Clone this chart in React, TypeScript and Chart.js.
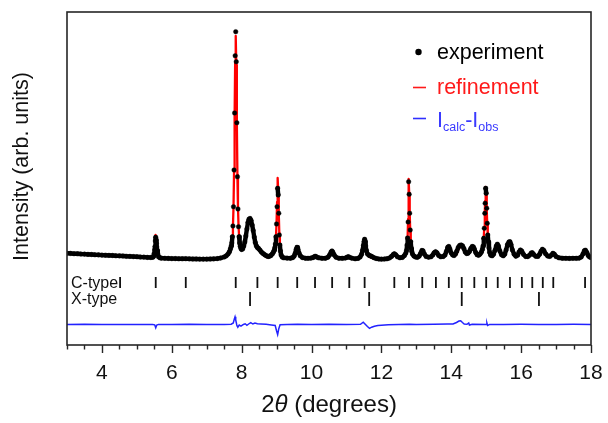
import React, { useEffect, useRef } from 'react';
import { Chart, registerables } from 'chart.js';

Chart.register(...registerables);

const FONT = '"Liberation Sans", Arial, Helvetica, sans-serif';

// 2θ positions of the measured / refined pattern (degrees)
const twoTheta = [
  3.0, 3.1, 3.2, 3.3, 3.4, 3.5, 3.6, 3.7, 3.8, 3.9, 4.0, 4.1, 4.2, 4.3, 4.4, 4.5, 4.6, 4.7, 4.8, 4.9, 5.0, 5.1, 5.2, 5.3, 5.4,
  5.46, 5.48, 5.495, 5.51, 5.52, 5.53, 5.54, 5.55, 5.56, 5.57, 5.585, 5.6, 5.62, 5.66,
  5.7, 5.8, 5.9, 6.0, 6.1, 6.2, 6.3, 6.4, 6.5, 6.6, 6.7, 6.8, 6.9, 7.0, 7.1, 7.2, 7.3, 7.4, 7.5, 7.56, 7.61, 7.65, 7.68, 7.7,
  7.718, 7.734, 7.75, 7.766, 7.782, 7.798, 7.814, 7.83, 7.846, 7.862, 7.878, 7.894, 7.91, 7.926, 7.942,
  7.96, 7.98, 8.0, 8.03, 8.06, 8.09, 8.12, 8.15, 8.18, 8.21, 8.24, 8.27, 8.3, 8.33, 8.36, 8.39, 8.42, 8.45, 8.48, 8.52, 8.56, 8.6, 8.64, 8.68, 8.72, 8.76, 8.8, 8.84, 8.88, 8.91, 8.935,
  8.95, 8.966, 8.982, 8.998, 9.014, 9.03, 9.046, 9.062, 9.078, 9.094, 9.11, 9.13, 9.16,
  9.2, 9.3, 9.4, 9.46, 9.5, 9.53, 9.56, 9.585, 9.61, 9.64, 9.68, 9.74, 9.82, 9.9, 9.98, 10.04, 10.08, 10.11, 10.14, 10.2, 10.3, 10.4, 10.47, 10.52, 10.56, 10.585, 10.61, 10.65, 10.7, 10.78, 10.88, 10.97, 11.02, 11.05, 11.08, 11.15, 11.25, 11.33, 11.39,
  11.43, 11.46, 11.485, 11.505, 11.52, 11.535, 11.55, 11.57, 11.6, 11.64, 11.68, 11.72, 11.78, 11.85, 11.93, 12.0, 12.08, 12.16, 12.23, 12.29, 12.34, 12.37, 12.41, 12.46, 12.53, 12.6, 12.66, 12.7,
  12.72, 12.735, 12.75, 12.765, 12.78, 12.795, 12.81, 12.825, 12.84, 12.855, 12.87, 12.89,
  12.93, 12.98, 13.03, 13.08, 13.12, 13.16, 13.19, 13.23, 13.28, 13.35, 13.42, 13.47, 13.51, 13.55, 13.59, 13.64, 13.7, 13.77, 13.82, 13.86, 13.9, 13.93, 13.96, 14.0, 14.04, 14.08,
  14.12, 14.16, 14.2, 14.24, 14.28, 14.32, 14.36, 14.4, 14.44, 14.48, 14.52, 14.56, 14.6, 14.63, 14.66, 14.7, 14.74, 14.78, 14.82, 14.86, 14.89,
  14.91, 14.93, 14.945, 14.96, 14.97, 14.985, 15.0, 15.015, 15.03, 15.045, 15.06, 15.08, 15.1, 15.13,
  15.17, 15.21, 15.25, 15.29, 15.32, 15.35, 15.39, 15.44, 15.49, 15.53, 15.57, 15.61, 15.65, 15.68, 15.71, 15.75, 15.8, 15.85, 15.9, 15.94, 15.98, 16.02, 16.07, 16.13, 16.19, 16.24, 16.29, 16.32, 16.36, 16.42, 16.48, 16.53, 16.57, 16.61, 16.65, 16.7, 16.76, 16.82, 16.87, 16.91, 16.95, 17.0, 17.08, 17.18, 17.28, 17.38, 17.48, 17.58, 17.66, 17.72, 17.77, 17.81, 17.84, 17.88, 17.92, 17.96, 18.0,
];

// measured intensity (arb. units)
const observed = [
  17, 16, 13, 12, 10, 9, 6, 5, 2, 1, -1, -2, -4, -5, -8, -9, -10, -13, -14, -16, -17, -20, -21, -24, -25,
  -22, -12, 15, 50, 85, 140, 177, 150, 115, 80, 45, 10, -18, -28,
  -31, -33, -34, -36, -36, -38, -38, -37, -39, -40, -40, -41, -41, -41, -40, -39, -36, -30, -20, -8, 10, 32, 62, 90,
  120, 183, 290, 483, 850, 1420, 1993, 2233, 1933, 1323, 783, 460, 283, 183, 120,
  88, 65, 55, 62, 90, 130, 190, 260, 325, 358, 365, 345, 300, 245, 180, 125, 92, 75, 66, 50, 32, 18, 8, -2, -10, -15, -12, -4, 12, 30, 50,
  72, 110, 183, 310, 483, 667, 600, 417, 200, 100, 40, 0, -20,
  -28, -31, -32, -26, -12, 15, 55, 77, 58, 22, -8, -26, -32, -33, -31, -26, -17, -13, -19, -28, -33, -32, -22, 2, 30, 40, 28, 0, -22, -32, -33, -30, -22, -17, -22, -31, -38, -34, -20,
  5, 45, 95, 135, 157, 135, 90, 45, 12, -2, -8, -14, -26, -35, -40, -41, -40, -38, -30, -14, 5, 12, 2, -18, -28, -24, -5, 20,
  45, 100, 170, 330, 733, 607, 417, 250, 133, 67, 35, 10,
  -10, -20, -23, -12, 15, 45, 42, 10, -15, -22, -18, 0, 22, 33, 22, -5, -18, -15, 0, 35, 78, 85, 60, 20, 0, -5,
  10, 40, 75, 95, 100, 92, 65, 30, 15, 18, 35, 65, 85, 82, 60, 25, 3, -3, 8, 28, 55,
  90, 167, 267, 417, 517, 667, 617, 467, 317, 200, 133, 70, 25, -3,
  -8, 8, 45, 90, 108, 90, 40, 2, -8, 8, 50, 105, 130, 132, 105, 50, 8, -12, -2, 30, 50, 38, 5, -15, -16, -2, 20, 22, 5, -13, -14, 8, 38, 57, 45, 12, -10, -14, 0, 17, 8, -15, -28, -32, -33, -34, -33, -33, -31, -20, 10, 42, 48, 25, -5, -20, -24,
];

// Rietveld refinement (arb. units)
const calculated = [
  17, 16, 13, 12, 10, 8, 6, 5, 3, 1, -1, -2, -4, -5, -7, -9, -10, -12, -14, -16, -18, -20, -22, -24, -25,
  -22, -10, 18, 55, 95, 160, 200, 165, 120, 80, 42, 8, -20, -28,
  -31, -33, -34, -36, -36, -38, -38, -37, -39, -40, -40, -41, -41, -41, -40, -39, -36, -30, -20, -8, 10, 32, 62, 90,
  120, 180, 285, 470, 830, 1380, 1930, 2190, 1900, 1320, 800, 480, 295, 190, 125,
  88, 65, 55, 62, 90, 130, 190, 260, 325, 358, 365, 345, 300, 245, 180, 125, 92, 75, 66, 48, 25, 8, -4, -14, -22, -24, -18, -8, 10, 30, 50,
  70, 105, 180, 320, 530, 770, 640, 420, 215, 105, 40, 0, -20,
  -28, -31, -32, -26, -12, 15, 55, 77, 58, 22, -8, -26, -32, -33, -31, -26, -17, -13, -19, -28, -33, -32, -22, 2, 30, 40, 28, 0, -22, -32, -33, -30, -22, -17, -22, -31, -38, -34, -20,
  5, 45, 95, 135, 150, 130, 88, 40, 0, -14, -22, -27, -33, -38, -41, -41, -40, -38, -30, -14, 5, 12, 2, -18, -28, -24, -5, 20,
  45, 100, 175, 360, 760, 620, 420, 250, 133, 67, 35, 10,
  -10, -20, -23, -12, 15, 45, 42, 10, -15, -22, -18, 0, 22, 33, 22, -5, -18, -15, 0, 35, 78, 85, 60, 20, 0, -5,
  -5, 15, 50, 75, 85, 85, 62, 30, 15, 18, 35, 65, 85, 82, 60, 25, 3, -3, 8, 28, 55,
  90, 170, 280, 430, 540, 680, 610, 460, 310, 195, 130, 70, 25, -3,
  -8, 8, 45, 90, 108, 90, 40, 2, -8, 8, 50, 105, 130, 132, 105, 50, 8, -12, -2, 30, 50, 38, 5, -15, -16, -2, 20, 22, 5, -13, -14, 8, 38, 57, 45, 12, -10, -14, 0, 17, 8, -15, -28, -32, -33, -34, -33, -33, -31, -20, 10, 42, 48, 25, -5, -20, -24,
];

// difference curve (offset below the pattern)
const diffTheta = [
  3.0, 3.5, 4.0, 4.5, 5.0, 5.45, 5.51, 5.54, 5.57, 5.62, 6.0, 6.5, 7.0, 7.5, 7.7, 7.76, 7.79, 7.81, 7.83, 7.86, 7.89, 7.93, 7.98,
  8.05, 8.1, 8.15, 8.2, 8.26, 8.32, 8.38, 8.45, 8.55, 8.7, 8.85, 8.96, 9.0, 9.03, 9.06, 9.1, 9.3, 9.6, 10.0, 10.5, 11.0, 11.4,
  11.48, 11.53, 11.6, 11.66, 11.72, 11.8, 11.9, 12.0, 12.2, 12.5, 12.8, 13.0, 13.5, 13.9, 14.05, 14.15, 14.22, 14.27, 14.32,
  14.37, 14.45, 14.5, 14.52, 14.6, 15.0, 15.02, 15.04, 15.1, 15.5, 16.0, 16.5, 17.0, 17.5, 18.0,
];
const difference = [
  -695, -693, -696, -694, -695, -694, -698, -728, -700, -694, -695, -693, -695, -694, -692, -680, -640, -618, -650, -700, -722, -700, -712,
  -695, -688, -703, -690, -676, -690, -680, -688, -690, -693, -700, -705, -760, -795, -740, -698, -694, -692, -695, -693, -695, -693,
  -672, -690, -715, -733, -722, -712, -706, -702, -697, -694, -692, -695, -692, -690, -690, -675, -660, -658, -675,
  -690, -693, -680, -700, -692, -694, -680, -705, -694, -695, -693, -694, -695, -693, -694,
];

// Bragg reflection positions of the two phases (degrees)
const cTypeReflections = [4.52, 5.54, 6.4, 7.83, 8.45, 9.03, 9.59, 10.1, 10.59, 11.08, 11.52, 12.37, 12.79, 13.17, 13.56, 13.93, 14.3, 14.66, 15.0, 15.33, 15.68, 16.02, 16.32, 16.62, 16.92, 17.83];
const xTypeReflections = [8.24, 11.65, 14.3, 16.51];
const cTypeRow = -275;
const xTypeRow = -440;

const phaseLabels = ['C-type', 'X-type'];
const xMajorTicks = [4, 6, 8, 10, 12, 14, 16, 18];
const xMinorTicks = [3, 3.5, 4.5, 5, 5.5, 6.5, 7, 7.5, 8.5, 9, 9.5, 10.5, 11, 11.5, 12.5, 13, 13.5, 14.5, 15, 15.5, 16.5, 17, 17.5];

const decoPlugin = {
  id: 'deco',
  afterDraw(chart: any) {
    const { ctx, chartArea: a, scales } = chart;
    const x = scales.x;
    const y = scales.y;
    ctx.save();
    // frame
    ctx.strokeStyle = '#262626';
    ctx.lineWidth = 1.6;
    ctx.strokeRect(a.left, a.top, a.right - a.left, a.bottom - a.top);
    // x ticks (outward)
    ctx.lineWidth = 1.4;
    ctx.beginPath();
    for (const v of xMajorTicks) {
      const px = Math.round(x.getPixelForValue(v)) + 0.5;
      ctx.moveTo(px, a.bottom);
      ctx.lineTo(px, a.bottom + 8);
    }
    for (const v of xMinorTicks) {
      const px = Math.round(x.getPixelForValue(v)) + 0.5;
      ctx.moveTo(px, a.bottom);
      ctx.lineTo(px, a.bottom + 4.5);
    }
    ctx.stroke();

    // x title with italic theta
    const cx = (a.left + a.right) / 2;
    const ty = 405;
    ctx.fillStyle = '#111';
    ctx.textBaseline = 'middle';
    ctx.textAlign = 'left';
    const normal = `24px ${FONT}`;
    const italic = `italic 24px ${FONT}`;
    ctx.font = normal;
    const w1 = ctx.measureText('2').width;
    const w3 = ctx.measureText(' (degrees)').width;
    ctx.font = italic;
    const w2 = ctx.measureText('θ').width;
    let sx = cx - (w1 + w2 + w3) / 2;
    ctx.font = normal;
    ctx.fillText('2', sx, ty);
    sx += w1;
    ctx.font = italic;
    ctx.fillText('θ', sx, ty);
    sx += w2;
    ctx.font = normal;
    ctx.fillText(' (degrees)', sx, ty);

    // y title
    ctx.save();
    ctx.translate(22, (a.top + a.bottom) / 2 - 12);
    ctx.rotate(-Math.PI / 2);
    ctx.textAlign = 'center';
    ctx.font = `21.5px ${FONT}`;
    ctx.fillText('Intensity (arb. units)', 0, 0);
    ctx.restore();

    // phase labels
    ctx.font = `16px ${FONT}`;
    ctx.textAlign = 'left';
    ctx.textBaseline = 'middle';
    ctx.fillStyle = '#111';
    ctx.fillText(phaseLabels[0], 71, y.getPixelForValue(cTypeRow) + 1);
    ctx.fillText(phaseLabels[1], 71, y.getPixelForValue(xTypeRow) + 1);

    // legend
    ctx.textBaseline = 'alphabetic';
    ctx.font = `21.5px ${FONT}`;
    ctx.fillStyle = '#000';
    ctx.beginPath();
    ctx.arc(418.5, 52, 3.2, 0, Math.PI * 2);
    ctx.fill();
    ctx.fillText('experiment', 437, 58.5);

    ctx.strokeStyle = '#ff1a1a';
    ctx.lineWidth = 1.6;
    ctx.beginPath();
    ctx.moveTo(413, 87.5);
    ctx.lineTo(426, 87.5);
    ctx.stroke();
    ctx.fillStyle = '#ff1a1a';
    ctx.fillText('refinement', 437, 94);

    ctx.strokeStyle = '#2f2fff';
    ctx.beginPath();
    ctx.moveTo(413, 118.5);
    ctx.lineTo(426, 118.5);
    ctx.stroke();
    ctx.fillStyle = '#3a3aff';
    let lx = 437;
    const base = 127;
    const sub = 131;
    const big = `21.5px ${FONT}`;
    const small = `12.5px ${FONT}`;
    ctx.font = big; ctx.fillText('I', lx, base); lx += ctx.measureText('I').width;
    ctx.font = small; ctx.fillText('calc', lx, sub); lx += ctx.measureText('calc').width;
    ctx.font = big; ctx.fillText('-', lx, base); lx += ctx.measureText('-').width;
    ctx.fillText('I', lx, base); lx += ctx.measureText('I').width;
    ctx.font = small; ctx.fillText('obs', lx, sub);
    ctx.restore();
  },
};

export default function App() {
  const ref = useRef<HTMLCanvasElement | null>(null);

  useEffect(() => {
    if (!ref.current) return;
    const obsPts = twoTheta.map((t, i) => ({ x: t, y: observed[i] }));
    const calcPts = twoTheta.map((t, i) => ({ x: t, y: calculated[i] }));
    const diffPts = diffTheta.map((t, i) => ({ x: t, y: difference[i] }));
    const cPts = cTypeReflections.map((t) => ({ x: t, y: cTypeRow }));
    const xPts = xTypeReflections.map((t) => ({ x: t, y: xTypeRow }));

    const chart = new Chart(ref.current, {
      type: 'scatter',
      data: {
        datasets: [
          {
            label: 'experiment',
            data: obsPts,
            showLine: true,
            borderWidth: 4.4,
            borderColor: '#000',
            borderJoinStyle: 'round',
            borderCapStyle: 'round',
            pointRadius: 2.3,
            pointBackgroundColor: '#000',
            pointBorderColor: '#000',
            pointBorderWidth: 0.4,
            segment: {
              borderColor: (c: any) =>
                Math.hypot(c.p1.x - c.p0.x, c.p1.y - c.p0.y) < 9 ? '#000' : 'rgba(0,0,0,0)',
            },
            order: 0,
          },
          {
            label: 'refinement',
            data: calcPts,
            showLine: true,
            borderColor: '#ff0000',
            borderWidth: 2.3,
            borderJoinStyle: 'round',
            pointRadius: 0,
            order: 1,
          },
          {
            label: 'Icalc-Iobs',
            data: diffPts,
            showLine: true,
            borderColor: '#2222ff',
            borderWidth: 1.5,
            pointRadius: 0,
            order: 2,
          },
          {
            label: 'C-type',
            data: cPts,
            showLine: false,
            pointStyle: 'line',
            rotation: 90,
            pointRadius: 5.5,
            borderColor: '#111',
            borderWidth: 1.8,
            order: 3,
          },
          {
            label: 'X-type',
            data: xPts,
            showLine: false,
            pointStyle: 'line',
            rotation: 90,
            pointRadius: 7,
            borderColor: '#111',
            borderWidth: 1.8,
            order: 3,
          },
        ] as any,
      },
      options: {
        animation: false,
        responsive: true,
        maintainAspectRatio: false,
        devicePixelRatio: 1,
        events: [],
        layout: { padding: { left: 67, right: 17, top: 12, bottom: 0 } },
        plugins: { legend: { display: false }, tooltip: { enabled: false } },
        scales: {
          x: {
            type: 'linear',
            min: 3,
            max: 18,
            afterBuildTicks: (s: any) => {
              s.ticks = xMajorTicks.map((v) => ({ value: v }));
            },
            afterFit: (s: any) => {
              s.height = 78;
              s.paddingLeft = 0;
              s.paddingRight = 0;
            },
            grid: { display: false, drawTicks: false },
            border: { display: false },
            ticks: {
              padding: 16,
              color: '#111',
              font: { family: FONT, size: 21 },
              maxRotation: 0,
              autoSkip: false,
              callback: (v: any) => String(v),
            },
          },
          y: {
            type: 'linear',
            display: false,
            min: -900,
            max: 2430,
          },
        },
      } as any,
      plugins: [decoPlugin],
    });
    return () => chart.destroy();
  }, []);

  return (
    <div style={{ position: 'fixed', left: 0, top: 0, width: 608, height: 423, background: '#fff' }}>
      <canvas ref={ref} />
    </div>
  );
}
